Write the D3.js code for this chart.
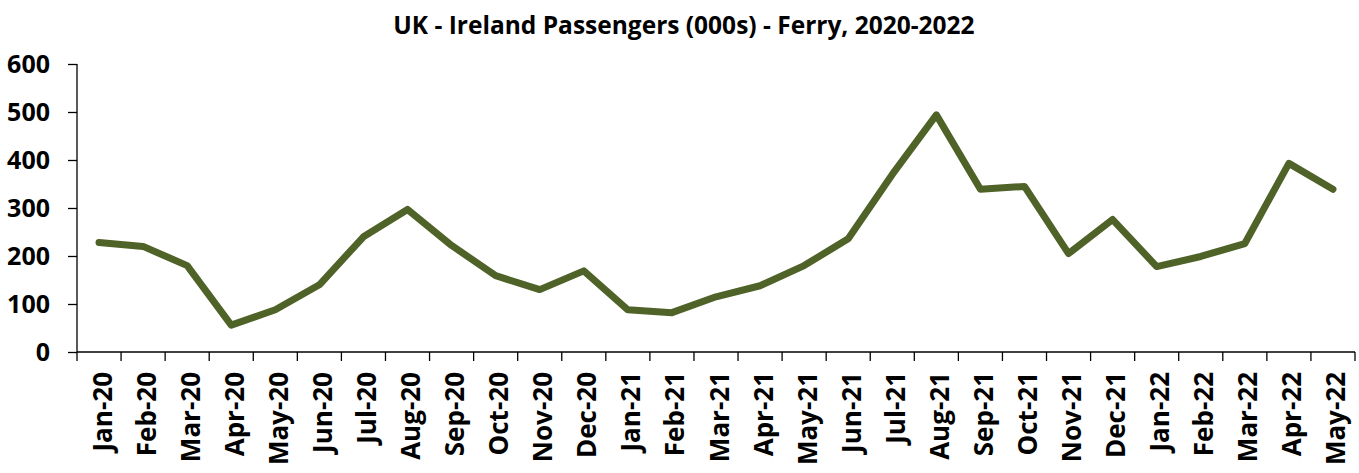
<!DOCTYPE html>
<html>
<head>
<meta charset="utf-8">
<script src="https://cdn.jsdelivr.net/npm/d3@7"></script>
<style>
  body { margin: 0; background: #fff; }
  text { font-family: "Open Sans", "Liberation Sans", sans-serif; font-weight: bold; }
</style>
</head>
<body>
<div id="chart"></div>
<script>
const months = ["Jan-20","Feb-20","Mar-20","Apr-20","May-20","Jun-20","Jul-20","Aug-20","Sep-20","Oct-20","Nov-20","Dec-20",
  "Jan-21","Feb-21","Mar-21","Apr-21","May-21","Jun-21","Jul-21","Aug-21","Sep-21","Oct-21","Nov-21","Dec-21",
  "Jan-22","Feb-22","Mar-22","Apr-22","May-22"];
const passengers = [228, 220, 180, 56, 88, 140, 240, 297, 222, 159, 130, 169,
  88, 82, 115, 138, 180, 236, 370, 494, 339, 345, 205, 276,
  178, 199, 226, 393, 339];
const yTicks = [0, 100, 200, 300, 400, 500, 600];

const width = 1359, height = 473;
const margin = {top: 64, right: 4, bottom: 121, left: 77};

const svg = d3.select("#chart").append("svg")
  .attr("width", width)
  .attr("height", height);

svg.append("text")
  .attr("x", 684)
  .attr("y", 34)
  .attr("text-anchor", "middle")
  .style("font-size", "24.5px")
  .text("UK - Ireland Passengers (000s) - Ferry, 2020-2022");

const x = d3.scaleBand()
  .domain(months)
  .range([margin.left, width - margin.right]);

const y = d3.scaleLinear()
  .domain([0, 600])
  .range([height - margin.bottom, margin.top]);

// y axis
const yAxis = svg.append("g")
  .attr("transform", `translate(${margin.left},0)`)
  .call(d3.axisLeft(y).tickValues(yTicks).tickSize(9).tickPadding(18));
yAxis.selectAll("text").style("font-size", "25px").attr("fill", "#000");
yAxis.selectAll("line, path").attr("stroke", "#000").attr("stroke-width", 1.3);
yAxis.select(".domain").attr("d", `M0,${y(600)}V${y(0)}`);

// x axis (ticks between categories)
const xAxis = svg.append("g")
  .attr("transform", `translate(0,${y(0)})`);
xAxis.append("line")
  .attr("x1", margin.left).attr("x2", width - margin.right)
  .attr("stroke", "#000").attr("stroke-width", 1.3);
xAxis.selectAll(".tick")
  .data(months.concat(["end"]))
  .join("line")
  .attr("x1", (d, i) => i < months.length ? x(d) : x.range()[1])
  .attr("x2", (d, i) => i < months.length ? x(d) : x.range()[1])
  .attr("y1", 0).attr("y2", 9)
  .attr("stroke", "#000").attr("stroke-width", 1.3);
xAxis.selectAll(".label")
  .data(months)
  .join("text")
  .attr("transform", d => `translate(${x(d) + x.bandwidth() / 2 + 12.5},20) rotate(-90)`)
  .attr("text-anchor", "end")
  .style("font-size", "26px")
  .text(d => d);

// series line
const line = d3.line()
  .x((d, i) => x(months[i]) + x.bandwidth() / 2)
  .y(d => y(d));

svg.append("path")
  .datum(passengers)
  .attr("fill", "none")
  .attr("stroke", "#4f6228")
  .attr("stroke-width", 7)
  .attr("stroke-linejoin", "round")
  .attr("stroke-linecap", "round")
  .attr("d", line);
</script>
</body>
</html>
